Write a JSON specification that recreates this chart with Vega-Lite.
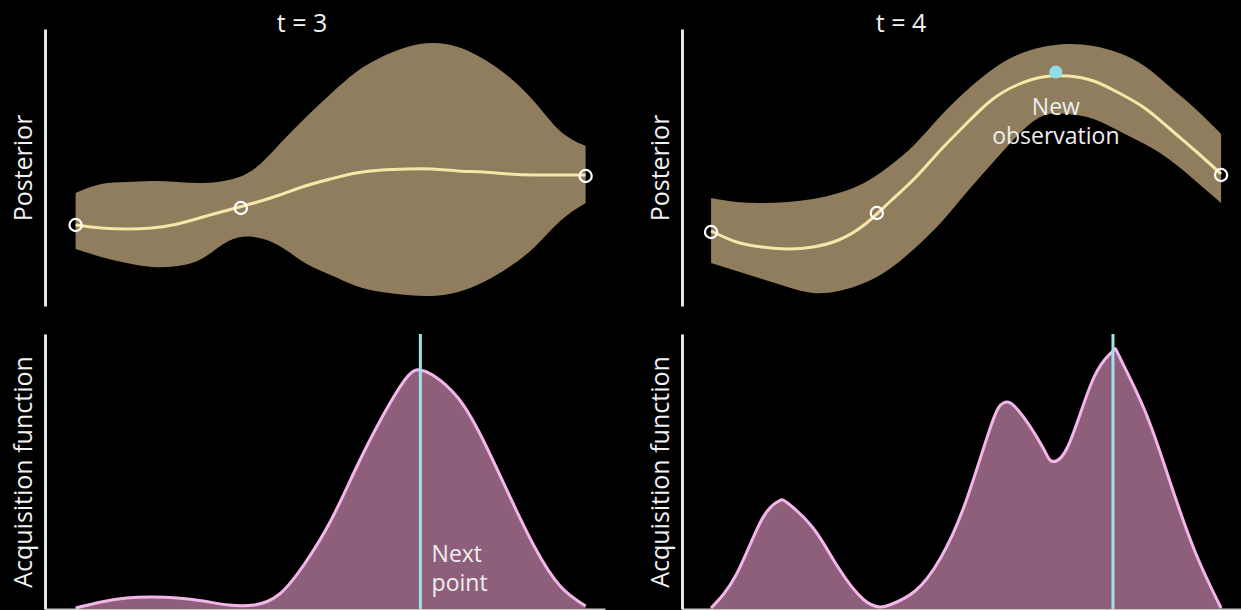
{
  "$schema": "https://vega.github.io/schema/vega-lite/v6.json",
  "background": "black",
  "padding": {"left": 11, "top": 12, "right": 0, "bottom": 0},
  "columns": 2,
  "spacing": {"row": 28, "column": 77},
  "bounds": "flush",
  "config": {
    "view": {"stroke": null},
    "font": "Open Sans",
    "axis": {"ticks": false, "labels": false, "grid": false, "titleColor": "#f2f2f2", "titleFontSize": 25, "titleFontWeight": "normal", "titleFont": "Open Sans"},
    "title": {"color": "#f2f2f2", "fontSize": 25, "fontWeight": "normal", "font": "Open Sans", "offset": -8, "baseline": "alphabetic"}
  },
  "datasets": {
    "post3": [
      {"x": 0, "lo": 57, "hi": 113, "mean": 81},
      {"x": 0.5, "lo": 49, "hi": 122, "mean": 78},
      {"x": 1, "lo": 43, "hi": 124, "mean": 77},
      {"x": 1.5, "lo": 39, "hi": 125, "mean": 78},
      {"x": 2, "lo": 40, "hi": 124, "mean": 82},
      {"x": 2.5, "lo": 48, "hi": 123, "mean": 89},
      {"x": 3, "lo": 65, "hi": 126, "mean": 96},
      {"x": 3.5, "lo": 69, "hi": 137, "mean": 103},
      {"x": 4, "lo": 60, "hi": 162, "mean": 111},
      {"x": 4.5, "lo": 43, "hi": 188, "mean": 120},
      {"x": 5, "lo": 31, "hi": 212, "mean": 127},
      {"x": 5.5, "lo": 20, "hi": 234, "mean": 133},
      {"x": 6, "lo": 14, "hi": 249, "mean": 136},
      {"x": 6.5, "lo": 11, "hi": 259, "mean": 137},
      {"x": 7, "lo": 10, "hi": 263, "mean": 137},
      {"x": 7.5, "lo": 14, "hi": 259, "mean": 135},
      {"x": 8, "lo": 24, "hi": 247, "mean": 134},
      {"x": 8.5, "lo": 39, "hi": 229, "mean": 132},
      {"x": 9, "lo": 59, "hi": 204, "mean": 131},
      {"x": 9.5, "lo": 85, "hi": 175, "mean": 131},
      {"x": 10, "lo": 103, "hi": 160, "mean": 131}
    ],
    "obs3": [
      {"x": 0, "y": 81},
      {"x": 3.24, "y": 98},
      {"x": 10, "y": 130}
    ],
    "post4": [
      {"x": 0, "lo": 43, "hi": 108, "mean": 75},
      {"x": 0.5, "lo": 35, "hi": 104, "mean": 64},
      {"x": 1, "lo": 27, "hi": 103, "mean": 59},
      {"x": 1.5, "lo": 19, "hi": 104, "mean": 57},
      {"x": 2, "lo": 13, "hi": 107, "mean": 59},
      {"x": 2.5, "lo": 15, "hi": 113, "mean": 66},
      {"x": 3, "lo": 23, "hi": 123, "mean": 81},
      {"x": 3.5, "lo": 37, "hi": 140, "mean": 104},
      {"x": 4, "lo": 58, "hi": 162, "mean": 128},
      {"x": 4.5, "lo": 83, "hi": 190, "mean": 156},
      {"x": 5, "lo": 113, "hi": 215, "mean": 182},
      {"x": 5.5, "lo": 142, "hi": 236, "mean": 206},
      {"x": 6, "lo": 170, "hi": 251, "mean": 221},
      {"x": 6.5, "lo": 190, "hi": 259, "mean": 229},
      {"x": 7, "lo": 192, "hi": 262, "mean": 230},
      {"x": 7.5, "lo": 187, "hi": 260, "mean": 225},
      {"x": 8, "lo": 175, "hi": 253, "mean": 213},
      {"x": 8.5, "lo": 162, "hi": 240, "mean": 198},
      {"x": 9, "lo": 146, "hi": 219, "mean": 177},
      {"x": 9.5, "lo": 125, "hi": 197, "mean": 155},
      {"x": 10, "lo": 103, "hi": 172, "mean": 132}
    ],
    "obs4": [
      {"x": 0, "y": 74},
      {"x": 3.25, "y": 93},
      {"x": 10, "y": 131}
    ],
    "new4": [
      {"x": 6.76, "y": 234}
    ],
    "newlab": [
      {"x": 6.76, "y": 191, "label": "New"},
      {"x": 6.76, "y": 162, "label": "observation"}
    ],
    "acq3": [
      {"x": 0, "a": 1}, {"x": 0.5, "a": 7}, {"x": 1, "a": 11}, {"x": 1.5, "a": 12},
      {"x": 2, "a": 11}, {"x": 2.5, "a": 8}, {"x": 3, "a": 4}, {"x": 3.5, "a": 4},
      {"x": 4, "a": 15}, {"x": 4.5, "a": 46}, {"x": 5, "a": 88}, {"x": 5.5, "a": 141},
      {"x": 6, "a": 191}, {"x": 6.5, "a": 232}, {"x": 6.76, "a": 239}, {"x": 7, "a": 234},
      {"x": 7.5, "a": 211}, {"x": 8, "a": 168}, {"x": 8.5, "a": 114}, {"x": 9, "a": 62},
      {"x": 9.5, "a": 23}, {"x": 10, "a": 3}
    ],
    "next3": [{"x": 6.76}],
    "nextlab": [
      {"x": 6.98, "y": 47, "label": "Next"},
      {"x": 6.98, "y": 18, "label": "point"}
    ],
    "acq4": [
      {"x": 0, "a": 1}, {"x": 0.5, "a": 35}, {"x": 1, "a": 90}, {"x": 1.33, "a": 108},
      {"x": 1.5, "a": 106}, {"x": 2, "a": 81}, {"x": 2.5, "a": 41}, {"x": 3, "a": 9},
      {"x": 3.31, "a": 2}, {"x": 3.5, "a": 4}, {"x": 4, "a": 18}, {"x": 4.5, "a": 51},
      {"x": 5, "a": 108}, {"x": 5.5, "a": 185}, {"x": 5.73, "a": 206}, {"x": 6, "a": 200},
      {"x": 6.5, "a": 162}, {"x": 6.67, "a": 148}, {"x": 7, "a": 163}, {"x": 7.5, "a": 231},
      {"x": 7.88, "a": 258}, {"x": 8, "a": 253}, {"x": 8.5, "a": 199}, {"x": 9, "a": 127},
      {"x": 9.5, "a": 56}, {"x": 10, "a": 1}
    ],
    "next4": [{"x": 7.88}]
  },
  "concat": [
    {
      "width": 560, "height": 277,
      "title": {"text": "t = 3", "dx": -23},
      "layer": [
        {
          "data": {"name": "post3"},
          "mark": {"type": "area", "interpolate": "natural", "color": "#8f7d5e"},
          "encoding": {
            "x": {"field": "x", "type": "quantitative", "scale": {"domain": [-0.6, 10.38], "nice": false, "zero": false}, "axis": null},
            "y": {"field": "lo", "type": "quantitative", "scale": {"domain": [0, 277], "nice": false}, "axis": {"title": "Posterior", "domain": true, "domainColor": "#e6e6e6", "domainWidth": 3, "titlePadding": 9}},
            "y2": {"field": "hi"}
          }
        },
        {
          "data": {"name": "post3"},
          "mark": {"type": "line", "interpolate": "natural", "color": "#f6e7a9", "strokeWidth": 3},
          "encoding": {
            "x": {"field": "x", "type": "quantitative"},
            "y": {"field": "mean", "type": "quantitative"}
          }
        },
        {
          "data": {"name": "obs3"},
          "mark": {"type": "point", "shape": "circle", "filled": false, "color": "#ffffff", "strokeWidth": 2.2, "size": 150, "opacity": 1},
          "encoding": {
            "x": {"field": "x", "type": "quantitative"},
            "y": {"field": "y", "type": "quantitative"}
          }
        }
      ]
    },
    {
      "width": 560, "height": 277,
      "title": {"text": "t = 4", "dx": -61},
      "layer": [
        {
          "data": {"name": "post4"},
          "mark": {"type": "area", "interpolate": "natural", "color": "#8f7d5e"},
          "encoding": {
            "x": {"field": "x", "type": "quantitative", "scale": {"domain": [-0.57, 10.41], "nice": false, "zero": false}, "axis": null},
            "y": {"field": "lo", "type": "quantitative", "scale": {"domain": [0, 277], "nice": false}, "axis": {"title": "Posterior", "domain": true, "domainColor": "#e6e6e6", "domainWidth": 3, "titlePadding": 9}},
            "y2": {"field": "hi"}
          }
        },
        {
          "data": {"name": "post4"},
          "mark": {"type": "line", "interpolate": "natural", "color": "#f6e7a9", "strokeWidth": 3},
          "encoding": {
            "x": {"field": "x", "type": "quantitative"},
            "y": {"field": "mean", "type": "quantitative"}
          }
        },
        {
          "data": {"name": "obs4"},
          "mark": {"type": "point", "shape": "circle", "filled": false, "color": "#ffffff", "strokeWidth": 2.2, "size": 150, "opacity": 1},
          "encoding": {
            "x": {"field": "x", "type": "quantitative"},
            "y": {"field": "y", "type": "quantitative"}
          }
        },
        {
          "data": {"name": "new4"},
          "mark": {"type": "point", "shape": "circle", "filled": true, "color": "#8fdde6", "size": 170, "opacity": 1},
          "encoding": {
            "x": {"field": "x", "type": "quantitative"},
            "y": {"field": "y", "type": "quantitative"}
          }
        },
        {
          "data": {"name": "newlab"},
          "mark": {"type": "text", "align": "center", "baseline": "alphabetic", "color": "#eeeeee", "fontSize": 23, "font": "Open Sans"},
          "encoding": {
            "x": {"field": "x", "type": "quantitative"},
            "y": {"field": "y", "type": "quantitative"},
            "text": {"field": "label"}
          }
        }
      ]
    },
    {
      "width": 560, "height": 275,
      "layer": [
        {
          "data": {"name": "acq3"},
          "mark": {"type": "area", "interpolate": "natural", "color": "#8e5f7b"},
          "encoding": {
            "x": {"field": "x", "type": "quantitative", "scale": {"domain": [-0.6, 10.38], "nice": false, "zero": false}, "axis": {"title": null, "domain": true, "domainColor": "#c8c8c8", "domainWidth": 2}},
            "y": {"field": "a", "type": "quantitative", "scale": {"domain": [0, 275], "nice": false}, "axis": {"title": "Acquisition function", "domain": true, "domainColor": "#e6e6e6", "domainWidth": 3, "titlePadding": 9}}
          }
        },
        {
          "data": {"name": "acq3"},
          "mark": {"type": "line", "interpolate": "natural", "color": "#f4b6ea", "strokeWidth": 3},
          "encoding": {
            "x": {"field": "x", "type": "quantitative"},
            "y": {"field": "a", "type": "quantitative"}
          }
        },
        {
          "data": {"name": "next3"},
          "mark": {"type": "rule", "color": "#9fe3ea", "strokeWidth": 3},
          "encoding": {
            "x": {"field": "x", "type": "quantitative"}
          }
        },
        {
          "data": {"name": "nextlab"},
          "mark": {"type": "text", "align": "left", "baseline": "alphabetic", "color": "#eeeeee", "fontSize": 23, "font": "Open Sans"},
          "encoding": {
            "x": {"field": "x", "type": "quantitative"},
            "y": {"field": "y", "type": "quantitative"},
            "text": {"field": "label"}
          }
        }
      ]
    },
    {
      "width": 560, "height": 275,
      "layer": [
        {
          "data": {"name": "acq4"},
          "mark": {"type": "area", "interpolate": "natural", "color": "#8e5f7b"},
          "encoding": {
            "x": {"field": "x", "type": "quantitative", "scale": {"domain": [-0.57, 10.41], "nice": false, "zero": false}, "axis": {"title": null, "domain": true, "domainColor": "#c8c8c8", "domainWidth": 2}},
            "y": {"field": "a", "type": "quantitative", "scale": {"domain": [0, 275], "nice": false}, "axis": {"title": "Acquisition function", "domain": true, "domainColor": "#e6e6e6", "domainWidth": 3, "titlePadding": 9}}
          }
        },
        {
          "data": {"name": "acq4"},
          "mark": {"type": "line", "interpolate": "natural", "color": "#f4b6ea", "strokeWidth": 3},
          "encoding": {
            "x": {"field": "x", "type": "quantitative"},
            "y": {"field": "a", "type": "quantitative"}
          }
        },
        {
          "data": {"name": "next4"},
          "mark": {"type": "rule", "color": "#9fe3ea", "strokeWidth": 3},
          "encoding": {
            "x": {"field": "x", "type": "quantitative"}
          }
        }
      ]
    }
  ],
  "resolve": {"scale": {"x": "independent", "y": "independent"}}
}
